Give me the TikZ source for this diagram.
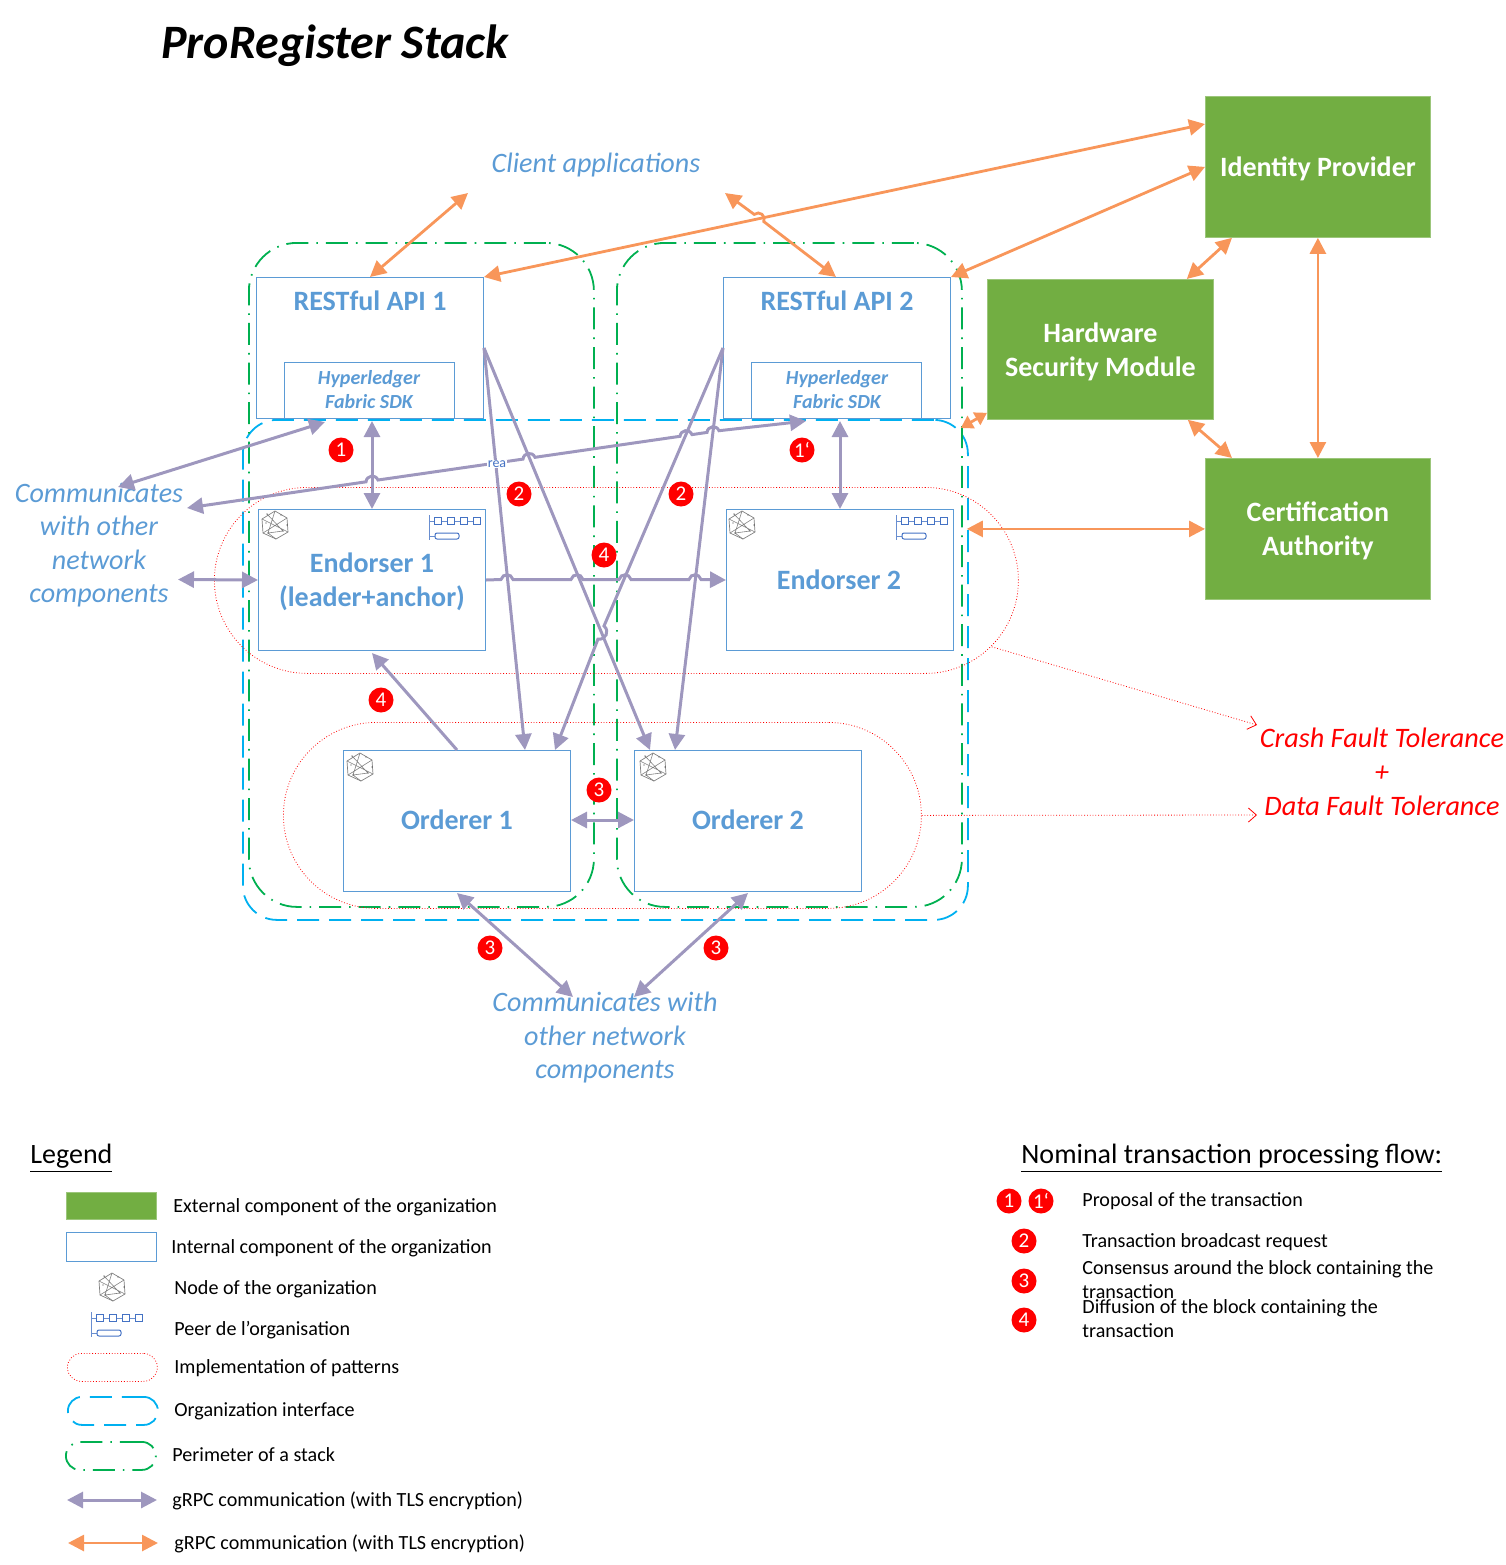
\documentclass[tikz,border=0pt]{standalone}
\usepackage{fontspec}
\setmainfont{Carlito}
\usetikzlibrary{arrows.meta}
\definecolor{extgreen}{RGB}{114,174,66}
\definecolor{intblue}{RGB}{91,155,213}
\definecolor{orgcyan}{RGB}{0,176,240}
\definecolor{stackgreen}{RGB}{0,176,80}
\definecolor{grpcpurple}{RGB}{158,151,190}
\definecolor{grpcorange}{RGB}{248,150,90}
\definecolor{peerblue}{RGB}{68,114,196}
\tikzset{
	boxsize/.style 2 args={minimum width=#1*0.5pt, minimum height=#2*0.5pt, inner sep=0pt, anchor=north west},
	extbox/.style={fill=extgreen, draw=extgreen!70!white, line width=0.4pt, text=white, align=center, text depth=0pt, font=\fontsize{14}{17}\selectfont\bfseries},
	intbox/.style={draw=intblue, line width=0.5pt},
	orgbox/.style={draw=orgcyan, line width=0.9pt, dash pattern=on 11pt off 5pt, rounded corners=17pt},
	stackbox/.style={draw=stackgreen, line width=0.9pt, dash pattern=on 11pt off 4pt on 0.8pt off 4pt, rounded corners=24pt},
	patbox/.style={draw=red, line width=0.4pt, densely dotted},
	bluetitle/.style={text=intblue, align=center, font=\fontsize{14}{17}\selectfont\bfseries},
	sdktext/.style={text=intblue, align=center, font=\fontsize{10}{12}\selectfont\bfseries\itshape},
	bluenote/.style={text=intblue, align=center, font=\fontsize{14.05}{16.8}\selectfont\itshape},
	rednote/.style={text=red, font=\fontsize{14.1}{16.8}\selectfont\itshape},
	legtext/.style={anchor=west, inner sep=0pt, yshift=-1pt, font=\fontsize{10.05}{12}\selectfont},
	legtitle/.style={anchor=west, inner sep=0pt, font=\fontsize{14}{17}\selectfont},
	badge/.style={circle, fill=red, text=white, minimum size=12.5pt, inner sep=0pt, font=\fontsize{10.5}{12}\selectfont},
	grpc/.style={draw=grpcpurple, line width=1.5pt, -{Stealth[length=8pt,width=8pt,inset=0pt]}},
	grpcb/.style={grpc, {Stealth[length=8pt,width=8pt,inset=0pt]}-{Stealth[length=8pt,width=8pt,inset=0pt]}},
	ext/.style={draw=grpcorange, line width=1.4pt, {Stealth[length=8pt,width=8pt,inset=0pt]}-{Stealth[length=8pt,width=8pt,inset=0pt]}},
	extshort/.style={draw=grpcorange, line width=1.4pt, {Stealth[length=6pt,width=7pt,inset=0pt]}-{Stealth[length=6pt,width=7pt,inset=0pt]}},
	patlink/.style={draw=red, line width=0.4pt, densely dotted, -{Straight Barb[length=4pt,width=7pt]}},
	nodeicon/.pic={
		\draw[gray, line width=0.35pt] (0,-14) -- (12,-7) -- (13,7) -- (1,14) -- (-12,8) -- (-13,-6) -- cycle;
		\draw[gray, line width=0.3pt] (-8,-11) -- (8,6) -- (-7,8) -- (0,-14) (-13,-6) -- (13,7) (-12,8) -- (12,-7) (-7,8) -- (1,14);
		\fill[black!75] (-8,-11) circle (0.7) (6,-10) circle (0.7) (12,0) circle (0.7) (8,6) circle (0.7) (-7,8) circle (0.7) (-9,-2) circle (0.7);
	},
	peericon/.pic={
		\draw[peerblue!80, line width=0.4pt] (-26,-12) -- (-26,13) (-26,-6) -- (-21,-6) (-14,-6) -- (-8,-6) (-1,-6) -- (5,-6) (12,-6) -- (18,-6) (-26,9) -- (-20,9);
		\draw[peerblue, line width=0.5pt] (-21,-9.5) rectangle (-14,-2.5) (-8,-9.5) rectangle (-1,-2.5) (5,-9.5) rectangle (12,-2.5) (18,-9.5) rectangle (25,-2.5);
		\draw[peerblue, line width=0.5pt, rounded corners=1pt] (-20,6) rectangle (4,12);
	}
}
\newcommand{\hop}[2]{-- (#1) to[bend left=75,looseness=1.4] (#2)}
\begin{document}
\begin{tikzpicture}[x=0.5pt, y=-0.5pt]
	\useasboundingbox (0,0) rectangle (1506,1565);
	\node[anchor=center, inner sep=0pt, font=\fontsize{24}{28}\selectfont\bfseries\itshape] (title) at (335,46) {ProRegister Stack};

	\node[orgbox, boxsize={725}{500}] (iface) at (242,419) {};
	\node[stackbox, boxsize={345}{664}] (stack1) at (248,242) {};
	\node[stackbox, boxsize={345}{664}] (stack2) at (616,242) {};
	\node[patbox, boxsize={804}{186}, rounded corners=46.5pt] (patend) at (214,487) {};
	\node[patbox, boxsize={638}{186}, rounded corners=46.5pt] (patord) at (283,722) {};

	\node[intbox, boxsize={227}{141}] (api1) at (256,277) {};
	\node[intbox, boxsize={227}{141}] (api2) at (723,277) {};
	\node[intbox, boxsize={170}{56}] (sdk1) at (284,362) {};
	\node[intbox, boxsize={170}{56}] (sdk2) at (751,362) {};
	\node[intbox, boxsize={227}{141}] (end1) at (258,509) {};
	\node[intbox, boxsize={227}{141}] (end2) at (726,509) {};
	\node[intbox, boxsize={227}{141}] (ord1) at (343,750) {};
	\node[intbox, boxsize={227}{141}] (ord2) at (634,750) {};

	\node[extbox, boxsize={225}{141}] (idp) at (1205,96) {Identity Provider};
	\node[extbox, boxsize={226}{140}] (hsm) at (987,279) {Hardware\\Security Module};
	\node[extbox, boxsize={225}{141}] (ca) at (1205,458) {Certification\\Authority};

	\node[bluetitle] (api1t) at (370,301) {RESTful API 1};
	\node[bluetitle] (api2t) at (837,301) {RESTful API 2};
	\node[sdktext] (sdk1t) at (369,390) {Hyperledger\\Fabric SDK};
	\node[sdktext] (sdk2t) at (837,390) {Hyperledger\\Fabric SDK};
	\node[bluetitle] (end1t) at (372,582) {Endorser 1\\(leader+anchor)};
	\node[bluetitle] (end2t) at (839,580) {Endorser 2};
	\node[bluetitle] (ord1t) at (457,820) {Orderer 1};
	\node[bluetitle] (ord2t) at (748,820) {Orderer 2};

	\pic at (275,525) {nodeicon};
	\pic at (742,525) {nodeicon};
	\pic at (360,767) {nodeicon};
	\pic at (653,767) {nodeicon};
	\pic at (455,527) {peericon};
	\pic at (922,527) {peericon};

	\node[bluenote] (client) at (596,165) {Client applications};
	\node[bluenote] (commleft) at (99,545) {Communicates\\with other\\network\\components};
	\node[bluenote] (commdown) at (605,1037.5) {Communicates with\\other network\\components};
	\node[rednote] (crash) at (1382,738) {Crash Fault Tolerance};
	\node[rednote] (plus) at (1382,774) {+};
	\node[rednote] (dataft) at (1382,806) {Data Fault Tolerance};

	\coordinate (cla) at (468,193);
	\coordinate (clb) at (725,193);
	\coordinate (cma) at (118,487);
	\coordinate (cmb) at (187,508);
	\coordinate (cmc) at (178,579.5);
	\coordinate (cdn) at (573,997);
	\coordinate (cdm) at (634,997);
	\coordinate (crp) at (1257,725);
	\coordinate (dfp) at (1257,815);

	\draw[grpcb] (cma) -- ([xshift=20.5pt,yshift=-1.5pt]sdk1.south west);
	\draw[grpcb] (cmb) \hop{366,481.8}{378,480} \hop{523,459.1}{535,457.3} \hop{680,436.3}{692,434.6} \hop{707,432.4}{719,430.7} -- ([xshift=27.5pt,yshift=-1pt]sdk2.south west);
	\draw[grpcb] (cmc) -- (end1.west);
	\draw[grpcb] ([yshift=-1pt]api1.south -| end1.north) -- (end1.north);
	\draw[grpcb] ([yshift=-1pt]api2.south -| end2.north) -- (end2.north);
	\draw[grpc] (end1.east) \hop{501,579.5}{513,579.5} \hop{571,579.5}{583,579.5} \hop{619,579.5}{631,579.5} \hop{689,579.5}{701,579.5} -- (end2.west);
	\draw[grpc] (api1.east) -- ([xshift=8pt]ord2.north west);
	\draw[grpc] (api1.east) -- ([xshift=-23pt]ord1.north east);
	\draw[grpc] (api2.west) \hop{604,626}{598,639} -- ([xshift=-8pt]ord1.north east);
	\draw[grpc] (api2.west) -- ([xshift=20.5pt]ord2.north west);
	\draw[grpc] (ord1.north) -- ([yshift=-1pt]end1.south);
	\draw[grpcb] (ord1.east |- ord1t) -- (ord2.west |- ord1t);
	\draw[grpcb] ([yshift=-0.5pt]ord1.south) -- (cdn);
	\draw[grpcb] ([yshift=-0.5pt]ord2.south) -- (cdm);

	\draw[ext] (api1.north) -- (cla);
	\draw[ext] (api1.north east) -- ([yshift=-14pt]idp.north west);
	\draw[ext] (clb) \hop{754.2,214.4}{763.8,221.6} -- ([xshift=-0.5pt]api2.north);
	\draw[ext] (api2.north east) -- (idp.west);
	\draw[ext] ([xshift=-13.5pt]hsm.north east) -- ([xshift=13.5pt]idp.south west);
	\draw[ext] (idp.south) -- (ca.north);
	\draw[ext] ([xshift=-13pt]hsm.south east) -- ([xshift=13.5pt]ca.north west);
	\draw[extshort] (iface.north east) ++(-8,9) -- ([yshift=3.5pt]hsm.south west);
	\draw[ext] (iface.east |- ca) ++(-2,0) -- (ca.west);

	\draw[patlink] (patend.south east) ++(-27,-27) -- (crp);
	\draw[patlink] (patord.east) -- (dfp);

	\node[inner sep=0.5pt, fill=white, text=peerblue, font=\fontsize{7}{8}\selectfont] (reatext) at (497,464) {rea};

	\node[badge] (b1) at (341,450) {1};
	\node[badge] (b1p) at (802,450) {1‘};
	\node[badge] (b2a) at (519,494) {2};
	\node[badge] (b2b) at (681,494) {2};
	\node[badge] (b4a) at (604,555) {4};
	\node[badge] (b4b) at (381,700) {4};
	\node[badge] (b3a) at (599,790) {3};
	\node[badge] (b3b) at (490,948) {3};
	\node[badge] (b3c) at (716,948) {3};

	\node[legtitle] (legend) at (30,1158) {\underline{Legend}};
	\node[extbox, boxsize={90}{27}] (lgext) at (66,1192) {};
	\node[intbox, boxsize={90}{29}] (lgint) at (66,1232) {};
	\pic at (112,1287) {nodeicon};
	\pic at (117,1324) {peericon};
	\node[patbox, boxsize={90}{28}, rounded corners=7pt] (lgpat) at (67,1353) {};
	\node[draw=orgcyan, line width=0.9pt, dash pattern=on 11pt off 5pt, rounded corners=7pt, boxsize={90}{28}] (lgorg) at (67,1396) {};
	\node[draw=stackgreen, line width=0.9pt, dash pattern=on 11pt off 4pt on 0.8pt off 4pt, rounded corners=7pt, boxsize={90}{28}] (lgstk) at (65,1441) {};
	\coordinate (lgpa) at (67,1500);
	\coordinate (lgpb) at (157,1500);
	\coordinate (lgoa) at (68,1543);
	\coordinate (lgob) at (158,1543);
	\draw[grpcb] (lgpa) -- (lgpb);
	\draw[ext] (lgoa) -- (lgob);

	\node[legtext] (tx1) at (173,1205) {External component of the organization};
	\node[legtext] (tx2) at (171,1246) {Internal component of the organization};
	\node[legtext] (tx3) at (174,1287) {Node of the organization};
	\node[legtext] (tx4) at (174,1328) {Peer de l’organisation};
	\node[legtext] (tx5) at (174,1366) {Implementation of patterns};
	\node[legtext] (tx6) at (174,1409) {Organization interface};
	\node[legtext] (tx7) at (172,1453) {Perimeter of a stack};
	\node[legtext] (tx8) at (172,1499) {gRPC communication (with TLS encryption)};
	\node[legtext] (tx9) at (174,1542) {gRPC communication (with TLS encryption)};

	\node[legtitle] (flow) at (1021,1158) {\underline{Nominal transaction processing flow:}};
	\node[badge] (f1) at (1009,1201) {1};
	\node[badge] (f1p) at (1041,1201) {1‘};
	\node[badge] (f2) at (1024,1241) {2};
	\node[badge] (f3) at (1024,1281) {3};
	\node[badge] (f4) at (1024,1320) {4};
	\node[legtext] (fx1) at (1082,1199) {Proposal of the transaction};
	\node[legtext] (fx2) at (1082,1240) {Transaction broadcast request};
	\node[legtext, align=left] (fx3) at (1082,1278) {Consensus around the block containing the\\transaction};
	\node[legtext, align=left] (fx4) at (1082,1317) {Diffusion of the block containing the\\transaction};
\end{tikzpicture}
\end{document}
